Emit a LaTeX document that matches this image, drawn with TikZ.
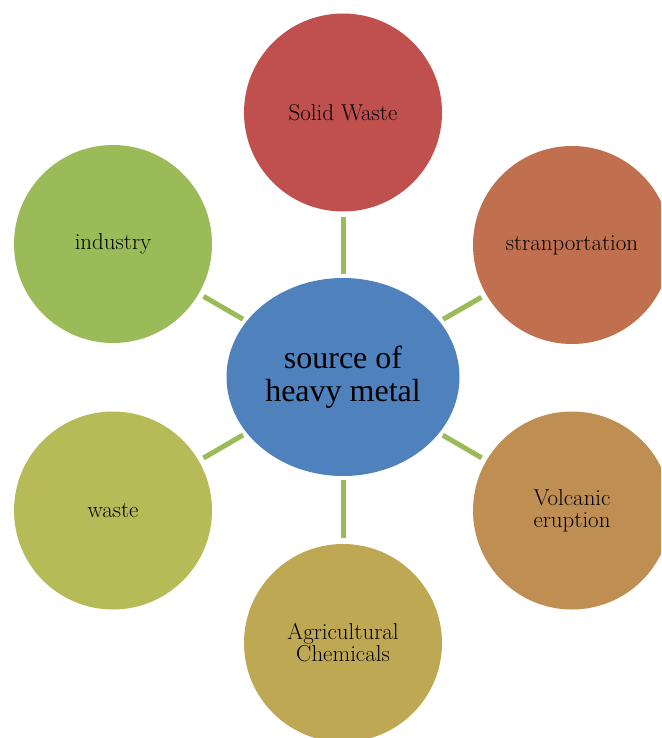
\documentclass[tikz,border=0pt]{standalone}
\usepackage{fontspec}
\newfontfamily\centerfont{Liberation Serif}
\usetikzlibrary{shapes.geometric}
\definecolor{cRed}{HTML}{C0504D}
\definecolor{cOrange}{HTML}{C1704F}
\definecolor{cBrown}{HTML}{BF8E52}
\definecolor{cOchre}{HTML}{BEA853}
\definecolor{cOlive}{HTML}{B7BB57}
\definecolor{cGreen}{HTML}{9BBB59}
\definecolor{cBlue}{HTML}{4F81BD}
\definecolor{cLink}{HTML}{9BBB59}
\tikzset{
  src/.style={circle, inner sep=0pt, minimum size=148.5pt, align=center,
    font=\fontsize{17.2}{16.5}\selectfont, text=black},
  hub/.style={ellipse, inner sep=0pt, minimum width=174.75pt, minimum height=148.5pt,
    fill=cBlue, align=center, font=\centerfont\fontsize{24}{24.75}\selectfont, text=black},
  link/.style={draw=cLink, line width=3.75pt, shorten <=4pt, shorten >=3pt}
}
\begin{document}
\begin{tikzpicture}[x=0.75pt, y=-0.75pt]
\clip (0,0) rectangle (661,738);
\node[hub] (hub) at (343,377) {source of\\heavy metal};
\node[src, fill=cRed] (solid) at (343,112.5) {Solid Waste};
\node[src, fill=cOrange] (trans) at (572,245) {stranportation};
\node[src, fill=cBrown] (volc) at (572,510.5) {Volcanic\\eruption};
\node[src, fill=cOchre] (agri) at (343,643) {Agricultural\\Chemicals};
\node[src, fill=cOlive] (waste) at (113,510.5) {waste};
\node[src, fill=cGreen] (ind) at (113,244) {industry};
\foreach \n in {solid,trans,volc,agri,waste,ind}
  \draw[link] (\n) -- (hub);
\end{tikzpicture}
\end{document}
